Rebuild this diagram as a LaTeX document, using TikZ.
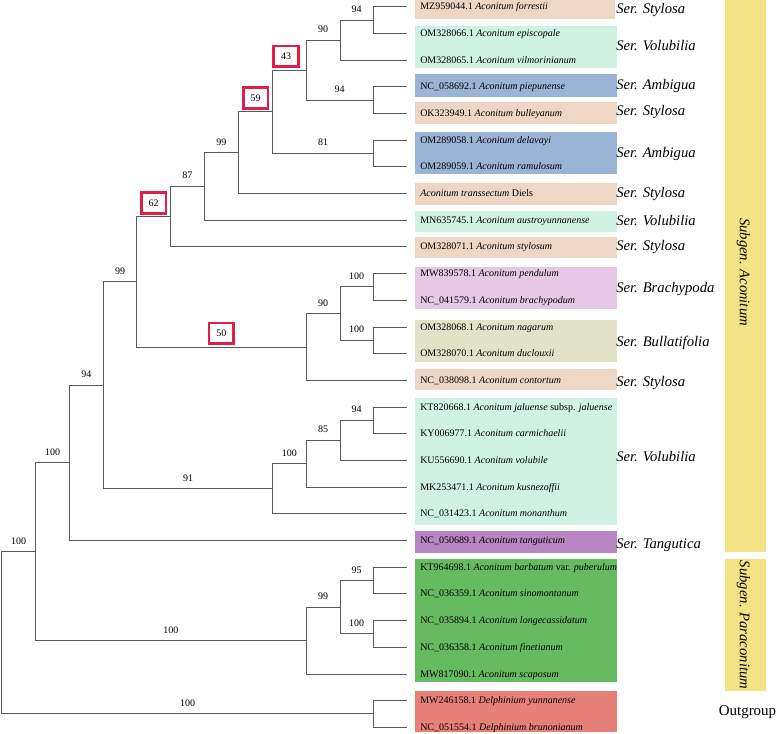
\documentclass[tikz,border=0pt]{standalone}
\usepackage{fontspec}
\setmainfont{Liberation Serif}
\definecolor{peach}{RGB}{238,214,196}
\definecolor{mint}{RGB}{208,242,226}
\definecolor{steel}{RGB}{155,180,214}
\definecolor{lav}{RGB}{230,200,230}
\definecolor{olivebg}{RGB}{226,226,198}
\definecolor{purp}{RGB}{185,133,194}
\definecolor{grn}{RGB}{102,187,96}
\definecolor{salm}{RGB}{232,128,122}
\definecolor{yel}{RGB}{242,228,133}
\definecolor{boxred}{RGB}{226,30,72}
\definecolor{branchc}{RGB}{90,90,90}
\begin{document}
\begin{tikzpicture}[x=0.75pt,y=-0.75pt,
  branch/.style={draw=branchc,line width=0.7pt},
  bs/.style={font=\fontsize{7.5}{8}\selectfont,anchor=south,inner sep=0pt,yshift=5.2pt},
  bsbox/.style={font=\fontsize{7.5}{8}\selectfont,draw=boxred,line width=2pt,minimum width=18.5pt,minimum height=15.5pt,inner sep=0pt,anchor=south,yshift=1.5pt},
  leaf/.style={font=\fontsize{7.5}{9}\selectfont,anchor=mid west,inner sep=0pt},
  ser/.style={font=\fontsize{11}{13}\selectfont\itshape,anchor=west,inner sep=0pt},
  subg/.style={font=\fontsize{11}{13}\selectfont\itshape,rotate=-90,inner sep=0pt}
]
\useasboundingbox (0,0) rectangle (777,734);

% coloured bands
\fill[peach]   (415,0)     rectangle (615,19.3);
\fill[mint]    (415,26)    rectangle (617,67.7);
\fill[steel]   (415,74)    rectangle (617,96.7);
\fill[peach]   (415,101.7) rectangle (617,124);
\fill[steel]   (415,132.3) rectangle (617,174);
\fill[peach]   (415,183.3) rectangle (617,205);
\fill[mint]    (415,211)   rectangle (617,231.7);
\fill[peach]   (415,237.3) rectangle (617,258.3);
\fill[lav]     (415,267.3) rectangle (617,309);
\fill[olivebg] (415,320)   rectangle (617,361.7);
\fill[peach]   (415,369)   rectangle (617,390);
\fill[mint]    (415,398.3) rectangle (617,525);
\fill[purp]    (415,530.7) rectangle (617,552.7);
\fill[grn]     (415,559)   rectangle (617,682.3);
\fill[salm]    (415,691)   rectangle (617,732.3);
\fill[yel]     (725,0.5)   rectangle (765.7,551.7);
\fill[yel]     (725,559)   rectangle (765.7,690.7);

% tips
\coordinate (t1) at (407,6.7);   \coordinate (t2) at (407,33.4);
\coordinate (t3) at (407,60.1);  \coordinate (t4) at (407,86.8);
\coordinate (t5) at (407,113.5); \coordinate (t6) at (407,140.1);
\coordinate (t7) at (407,166.8); \coordinate (t8) at (407,193.5);
\coordinate (t9) at (407,220.2); \coordinate (t10) at (407,246.9);
\coordinate (t11) at (407,273.6); \coordinate (t12) at (407,300.3);
\coordinate (t13) at (407,327.0); \coordinate (t14) at (407,353.7);
\coordinate (t15) at (407,380.4); \coordinate (t16) at (407,407.1);
\coordinate (t17) at (407,433.7); \coordinate (t18) at (407,460.4);
\coordinate (t19) at (407,487.1); \coordinate (t20) at (407,513.8);
\coordinate (t21) at (407,540.5); \coordinate (t22) at (407,567.2);
\coordinate (t23) at (407,593.9); \coordinate (t24) at (407,620.6);
\coordinate (t25) at (407,647.3); \coordinate (t26) at (407,674.0);
\coordinate (t27) at (407,700.6); \coordinate (t28) at (407,727.3);

% internal nodes
\coordinate (nF)    at (373.3,20.05);
\coordinate (nFV)   at (340,40.1);
\coordinate (nPB)   at (373.3,100.15);
\coordinate (n43)   at (306,70.1);
\coordinate (nDR)   at (373.3,153.45);
\coordinate (n59)   at (272.7,111.8);
\coordinate (n99a)  at (238.7,152.65);
\coordinate (n87)   at (204,186.4);
\coordinate (n62)   at (170.7,216.65);
\coordinate (nPe)   at (373.3,286.95);
\coordinate (nNa)   at (373.3,340.35);
\coordinate (n90b)  at (340,313.65);
\coordinate (n50)   at (306,347.0);
\coordinate (n99b)  at (136.7,281.8);
\coordinate (nJ)    at (373.3,420.4);
\coordinate (n85)   at (340,440.4);
\coordinate (n100v) at (306,463.75);
\coordinate (n91)   at (272.7,488.8);
\coordinate (n94)   at (103.3,385.3);
\coordinate (nSub)  at (69.3,462.9);
\coordinate (nBa)   at (373.3,580.55);
\coordinate (nLo)   at (373.3,633.95);
\coordinate (n99p)  at (340,607.25);
\coordinate (nPara) at (306,640.6);
\coordinate (nA)    at (35.7,551.75);
\coordinate (nDel)  at (373.3,713.95);
\coordinate (root)  at (1.7,632.85);

% branches
\draw[branch] (root) |- node[bs,pos=0.75]{100} (nA);
\draw[branch] (root) |- node[bs,pos=0.75]{100} (nDel);
\draw[branch] (nA) |- node[bs,pos=0.75]{100} (nSub);
\draw[branch] (nA) |- node[bs,pos=0.75]{100} (nPara);
\draw[branch] (nSub) |- node[bs,pos=0.75]{94} (n94);
\draw[branch] (nSub) |- (t21);
\draw[branch] (n94) |- node[bs,pos=0.75]{99} (n99b);
\draw[branch] (n94) |- node[bs,pos=0.75]{91} (n91);
\draw[branch] (n99b) |- node[bsbox,pos=0.75]{62} (n62);
\draw[branch] (n99b) |- node[bsbox,pos=0.75]{50} (n50);
\draw[branch] (n62) |- node[bs,pos=0.75]{87} (n87);
\draw[branch] (n62) |- (t10);
\draw[branch] (n87) |- node[bs,pos=0.75]{99} (n99a);
\draw[branch] (n87) |- (t9);
\draw[branch] (n99a) |- node[bsbox,pos=0.75]{59} (n59);
\draw[branch] (n99a) |- (t8);
\draw[branch] (n59) |- node[bsbox,pos=0.70]{43} (n43);
\draw[branch] (n59) |- node[bs,pos=0.75]{81} (nDR);
\draw[branch] (n43) |- node[bs,pos=0.75]{90} (nFV);
\draw[branch] (n43) |- node[bs,pos=0.75]{94} (nPB);
\draw[branch] (nFV) |- node[bs,pos=0.75]{94} (nF);
\draw[branch] (nFV) |- (t3);
\draw[branch] (nF) |- (t1);
\draw[branch] (nF) |- (t2);
\draw[branch] (nPB) |- (t4);
\draw[branch] (nPB) |- (t5);
\draw[branch] (nDR) |- (t6);
\draw[branch] (nDR) |- (t7);
\draw[branch] (n50) |- node[bs,pos=0.75]{90} (n90b);
\draw[branch] (n50) |- (t15);
\draw[branch] (n90b) |- node[bs,pos=0.75]{100} (nPe);
\draw[branch] (n90b) |- node[bs,pos=0.75]{100} (nNa);
\draw[branch] (nPe) |- (t11);
\draw[branch] (nPe) |- (t12);
\draw[branch] (nNa) |- (t13);
\draw[branch] (nNa) |- (t14);
\draw[branch] (n91) |- node[bs,pos=0.75]{100} (n100v);
\draw[branch] (n91) |- (t20);
\draw[branch] (n100v) |- node[bs,pos=0.75]{85} (n85);
\draw[branch] (n100v) |- (t19);
\draw[branch] (n85) |- node[bs,pos=0.75]{94} (nJ);
\draw[branch] (n85) |- (t18);
\draw[branch] (nJ) |- (t16);
\draw[branch] (nJ) |- (t17);
\draw[branch] (nPara) |- node[bs,pos=0.75]{99} (n99p);
\draw[branch] (nPara) |- (t26);
\draw[branch] (n99p) |- node[bs,pos=0.75]{95} (nBa);
\draw[branch] (n99p) |- node[bs,pos=0.75]{100} (nLo);
\draw[branch] (nBa) |- (t22);
\draw[branch] (nBa) |- (t23);
\draw[branch] (nLo) |- (t24);
\draw[branch] (nLo) |- (t25);
\draw[branch] (nDel) |- (t27);
\draw[branch] (nDel) |- (t28);

% leaf labels
\node[leaf] (l1)  at (420,6.7)   {MZ959044.1 \textit{Aconitum forrestii}};
\node[leaf] (l2)  at (420,33.4)  {OM328066.1 \textit{Aconitum episcopale}};
\node[leaf] (l3)  at (420,60.1)  {OM328065.1 \textit{Aconitum vilmorinianum}};
\node[leaf] (l4)  at (420,86.8)  {NC\_058692.1 \textit{Aconitum piepunense}};
\node[leaf] (l5)  at (420,113.5) {OK323949.1 \textit{Aconitum bulleyanum}};
\node[leaf] (l6)  at (420,140.1) {OM289058.1 \textit{Aconitum delavayi}};
\node[leaf] (l7)  at (420,166.8) {OM289059.1 \textit{Aconitum ramulosum}};
\node[leaf] (l8)  at (420,193.5) {\textit{Aconitum transsectum} Diels};
\node[leaf] (l9)  at (420,220.2) {MN635745.1 \textit{Aconitum austroyunnanense}};
\node[leaf] (l10) at (420,246.9) {OM328071.1 \textit{Aconitum stylosum}};
\node[leaf] (l11) at (420,273.6) {MW839578.1 \textit{Aconitum pendulum}};
\node[leaf] (l12) at (420,300.3) {NC\_041579.1 \textit{Aconitum brachypodum}};
\node[leaf] (l13) at (420,327.0) {OM328068.1 \textit{Aconitum nagarum}};
\node[leaf] (l14) at (420,353.7) {OM328070.1 \textit{Aconitum duclouxii}};
\node[leaf] (l15) at (420,380.4) {NC\_038098.1 \textit{Aconitum contortum}};
\node[leaf] (l16) at (420,407.1) {KT820668.1 \textit{Aconitum jaluense} subsp. \textit{jaluense}};
\node[leaf] (l17) at (420,433.7) {KY006977.1 \textit{Aconitum carmichaelii}};
\node[leaf] (l18) at (420,460.4) {KU556690.1 \textit{Aconitum volubile}};
\node[leaf] (l19) at (420,487.1) {MK253471.1 \textit{Aconitum kusnezoffii}};
\node[leaf] (l20) at (420,513.8) {NC\_031423.1 \textit{Aconitum monanthum}};
\node[leaf] (l21) at (420,540.5) {NC\_050689.1 \textit{Aconitum tanguticum}};
\node[leaf] (l22) at (420,567.2) {KT964698.1 \textit{Aconitum barbatum} var. \textit{puberulum}};
\node[leaf] (l23) at (420,593.9) {NC\_036359.1 \textit{Aconitum sinomontanum}};
\node[leaf] (l24) at (420,620.6) {NC\_035894.1 \textit{Aconitum longecassidatum}};
\node[leaf] (l25) at (420,647.3) {NC\_036358.1 \textit{Aconitum finetianum}};
\node[leaf] (l26) at (420,674.0) {MW817090.1 \textit{Aconitum scaposum}};
\node[leaf] (l27) at (420,700.6) {MW246158.1 \textit{Delphinium yunnanense}};
\node[leaf] (l28) at (420,727.3) {NC\_051554.1 \textit{Delphinium brunonianum}};

% series labels
\node[ser] (s1)  at (616,10)    {Ser. Stylosa};
\node[ser] (s2)  at (616,45.7)  {Ser. Volubilia};
\node[ser] (s3)  at (616,86)    {Ser. Ambigua};
\node[ser] (s4)  at (616,111.7) {Ser. Stylosa};
\node[ser] (s5)  at (616,154)   {Ser. Ambigua};
\node[ser] (s6)  at (616,194.3) {Ser. Stylosa};
\node[ser] (s7)  at (616,221)   {Ser. Volubilia};
\node[ser] (s8)  at (616,247)   {Ser. Stylosa};
\node[ser] (s9)  at (616,289)   {Ser. Brachypoda};
\node[ser] (s10) at (616,343.3) {Ser. Bullatifolia};
\node[ser] (s11) at (616,383.3) {Ser. Stylosa};
\node[ser] (s12) at (616,456.7) {Ser. Volubilia};
\node[ser] (s13) at (616,545)   {Ser. Tangutica};

% subgenus labels
\node[subg] (g1) at (743.5,272) {Subgen. Aconitum};
\node[subg] (g2) at (743.5,625) {Subgen. Paraconitum};
\node[font=\fontsize{11.2}{13}\selectfont,inner sep=0pt] (og) at (747.5,712) {Outgroup};
\end{tikzpicture}
\end{document}
